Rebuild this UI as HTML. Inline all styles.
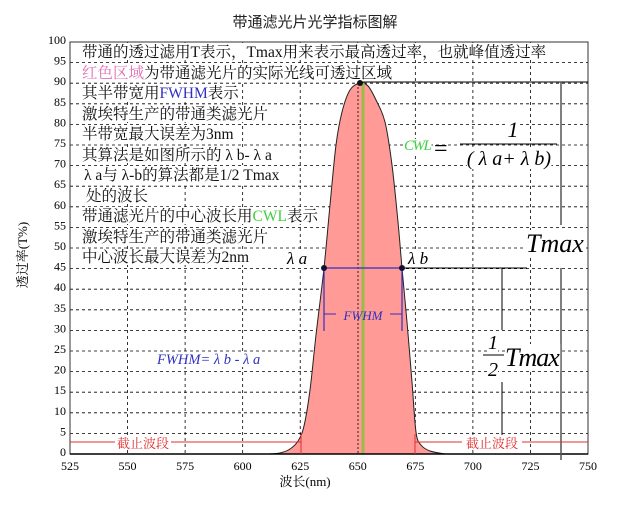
<!DOCTYPE html>
<html><head><meta charset="utf-8"><style>
body{margin:0;background:#fff;}
svg{display:block;font-family:"Liberation Serif","Noto Serif CJK SC",serif;}
</style></head><body>
<svg id="s" width="629" height="505" viewBox="0 0 629 505">
<rect width="629" height="505" fill="#fff"/>
<g id="grid" stroke="#000" stroke-width="0.8" stroke-dasharray="3,3"></g>
<path id="curve" fill="#ff9a96" stroke="#222" stroke-width="1"/>
<line x1="363" y1="83" x2="363" y2="454" stroke="#9fb84a" stroke-width="3"/>
<line x1="358" y1="83" x2="358" y2="454" stroke="#000" stroke-width="0.8" stroke-dasharray="2,2"/>
<rect x="70" y="42" width="518" height="412" fill="none" stroke="#333" stroke-width="1"/>
<line x1="70" y1="454" x2="588" y2="454" stroke="#000" stroke-width="1.5"/>
<g id="ticks" font-size="12" fill="#000"></g>
<text x="315" y="27" font-size="15" text-anchor="middle" fill="#222" font-family="Liberation Sans,Noto Sans CJK SC,sans-serif">带通滤光片光学指标图解</text>
<text x="305" y="486" font-size="13" text-anchor="middle">波长(nm)</text>
<text transform="translate(27,255) rotate(-90)" font-size="13" text-anchor="middle">透过率(T%)</text>
<g font-size="15.5" fill="#111">
<text class="bg" x="82" y="57">带通的透过滤用T表示，Tmax用来表示最高透过率，也就峰值透过率</text>
<text class="bg" x="82" y="78"><tspan fill="#e070b8">红色区域</tspan>为带通滤光片的实际光线可透过区域</text>
<text class="bg" x="82" y="98">其半带宽用<tspan fill="#3030c0">FWHM</tspan>表示</text>
<text class="bg" x="82" y="119">激埃特生产的带通类滤光片</text>
<text class="bg" x="82" y="139">半带宽最大误差为3nm</text>
<text class="bg" x="82" y="160">其算法是如图所示的 λ b- λ a</text>
<text class="bg" x="84" y="180">λ a与 λ-b的算法都是1/2 Tmax</text>
<text class="bg" x="86" y="201">处的波长</text>
<text class="bg" x="82" y="221">带通滤光片的中心波长用<tspan fill="#40d040">CWL</tspan>表示</text>
<text class="bg" x="82" y="242">激埃特生产的带通类滤光片</text>
<text class="bg" x="82" y="262">中心波长最大误差为2nm</text>
</g>
<line x1="361" y1="82" x2="588" y2="82" stroke="#000"/>
<line x1="561" y1="82" x2="561" y2="225" stroke="#555" stroke-width="1.5"/>
<line x1="561" y1="268" x2="561" y2="460" stroke="#555" stroke-width="1.5"/>
<line x1="402" y1="268" x2="527" y2="268" stroke="#000"/>
<line x1="502" y1="268" x2="502" y2="330" stroke="#000"/>
<line x1="502" y1="382" x2="502" y2="445" stroke="#000"/>
<line x1="324" y1="268" x2="402" y2="268" stroke="#3030c0" stroke-width="1.2"/>
<line x1="324" y1="268" x2="324" y2="331" stroke="#3030c0" stroke-width="1.2"/>
<line x1="402" y1="268" x2="402" y2="331" stroke="#3030c0" stroke-width="1.2"/>
<line x1="324" y1="314" x2="336" y2="314" stroke="#3030c0"/>
<line x1="390" y1="314" x2="402" y2="314" stroke="#3030c0"/>
<text x="363" y="320" font-size="13" font-style="italic" fill="#3030c0" text-anchor="middle">FWHM</text>
<circle cx="324" cy="268" r="3" fill="#113"/><circle cx="402" cy="268" r="3" fill="#113"/>
<circle cx="360" cy="83" r="3" fill="#111"/>
<text class="bg" x="287" y="264" font-size="17" font-style="italic">λ a</text>
<text class="bg" x="408" y="264" font-size="17" font-style="italic">λ b</text>
<text class="bg" x="157" y="364" font-size="14.5" font-style="italic" fill="#3030c0">FWHM= λ b - λ a</text>
<text class="bg" x="404" y="150" font-size="15" font-style="italic" fill="#40d040" letter-spacing="-1.5">CWL</text>
<text x="434" y="156" font-size="24">=</text>
<text class="bg" x="513" y="137" font-size="22" font-style="italic" text-anchor="middle">1</text>
<line x1="460" y1="144" x2="557" y2="144" stroke="#000"/>
<text class="bg" x="509" y="165" font-size="20" font-style="italic" text-anchor="middle">( λ a+ λ b)</text>
<text class="bg" x="526" y="252" font-size="26" font-style="italic">Tmax</text>
<text class="bg" x="493" y="349" font-size="20" font-style="italic" text-anchor="middle">1</text>
<line x1="483" y1="355" x2="504" y2="355" stroke="#000"/>
<text class="bg" x="493" y="376" font-size="20" font-style="italic" text-anchor="middle">2</text>
<text class="bg" x="505" y="366" font-size="26" font-style="italic" letter-spacing="-1">Tmax</text>
<g stroke="#e03030" stroke-width="1">
<line x1="70" y1="442" x2="301" y2="442"/><line x1="415" y1="442" x2="588" y2="442"/>
<line x1="301" y1="434" x2="301" y2="454"/><line x1="415" y1="434" x2="415" y2="454"/>
</g>
<rect x="115" y="435" width="56" height="15" fill="#fff"/><rect x="462" y="435" width="60" height="15" fill="#fff"/>
<text x="143" y="448" font-size="13" fill="#e03030" text-anchor="middle">截止波段</text>
<text x="492" y="448" font-size="13" fill="#e03030" text-anchor="middle">截止波段</text>
</svg>
<script>
var X=n=>70+(n-525)*518/225, Y=v=>454-v*4.12, NS="http://www.w3.org/2000/svg";
var g=document.getElementById('grid'),t=document.getElementById('ticks');
for(var v=5;v<100;v+=5){var l=document.createElementNS(NS,'line');l.setAttribute('x1',70);l.setAttribute('x2',588);l.setAttribute('y1',Y(v));l.setAttribute('y2',Y(v));g.appendChild(l);}
for(var n=550;n<750;n+=25){var l=document.createElementNS(NS,'line');l.setAttribute('x1',X(n));l.setAttribute('x2',X(n));l.setAttribute('y1',42);l.setAttribute('y2',454);g.appendChild(l);}
for(var v=0;v<=100;v+=5){var e=document.createElementNS(NS,'text');e.setAttribute('x',66);e.setAttribute('y',Y(v)+2);e.setAttribute('text-anchor','end');e.textContent=v;t.appendChild(e);}
for(var n=525;n<=750;n+=25){var e=document.createElementNS(NS,'text');e.setAttribute('x',X(n));e.setAttribute('y',470);e.setAttribute('text-anchor','middle');e.textContent=n;t.appendChild(e);}
var pts=[[268,454],[280,453],[290,449],[298,441],[304,426],[310,390],[316,335],[324,268],[330,205],[336,145],[342,112],[350,90],[360,83],[368,86],[376,100],[385,122],[392,165],[398,222],[402,268],[407,322],[412,382],[416,432],[421,445],[430,451],[445,454]];
var d='M'+pts[0].join(',');
for(var i=1;i<pts.length;i++){var p0=pts[i-1],p1=pts[i];var pm=pts[i-2]||p0,pn=pts[i+1]||p1;
var c1=[p0[0]+(p1[0]-pm[0])/6,p0[1]+(p1[1]-pm[1])/6],c2=[p1[0]-(pn[0]-p0[0])/6,p1[1]-(pn[1]-p0[1])/6];
d+=' C'+c1.join(',')+' '+c2.join(',')+' '+p1.join(',');}
d+='Z';document.getElementById('curve').setAttribute('d',d);
document.querySelectorAll('text.bg').forEach(function(e){var b=e.getBBox();var r=document.createElementNS(NS,'rect');r.setAttribute('x',b.x);r.setAttribute('y',b.y+1);r.setAttribute('width',b.width);r.setAttribute('height',b.height-2);r.setAttribute('fill','#fff');e.parentNode.insertBefore(r,e);});
</script>
</body></html>
